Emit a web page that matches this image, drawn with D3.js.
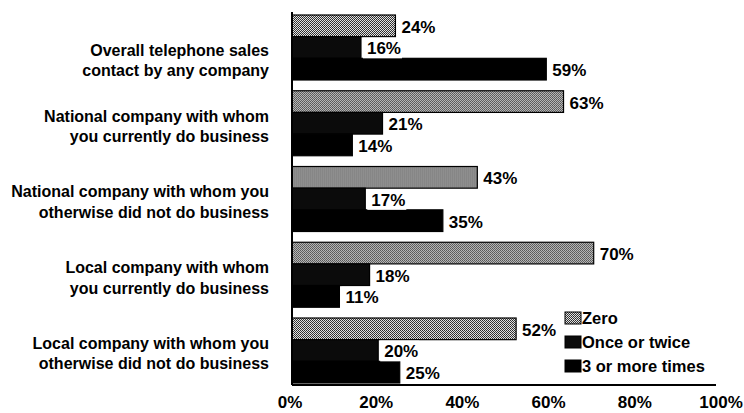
<!DOCTYPE html>
<html>
<head>
<meta charset="utf-8">
<script src="https://cdn.jsdelivr.net/npm/d3@7"></script>
<style>
  html, body { margin: 0; padding: 0; background: #fff; }
  svg { display: block; }
  text { font-family: "Liberation Sans", Arial, Helvetica, sans-serif; font-weight: bold; fill: #000; }
</style>
</head>
<body>
<svg id="chart" width="744" height="413"></svg>
<script>
// Category labels (two lines each)
const categories = [
  ["Overall telephone sales", "contact by any company"],
  ["National company with whom", "you currently do business"],
  ["National company with whom you", "otherwise did not do business"],
  ["Local company with whom", "you currently do business"],
  ["Local company with whom you", "otherwise did not do business"]
];
const seriesNames = ["Zero", "Once or twice", "3 or more times"];
const zeroValues = [24, 63, 43, 70, 52];
const onceValues = [16, 21, 17, 18, 20];
const moreValues = [59, 14, 35, 11, 25];
const xTicks = [0, 20, 40, 60, 80, 100];

const seriesValues = [zeroValues, onceValues, moreValues];

const svg = d3.select("#chart");

// Pattern for the "Zero" bars: fine stipple
const defs = svg.append("defs");
const pat = defs.append("pattern")
  .attr("id", "stipple")
  .attr("patternUnits", "userSpaceOnUse")
  .attr("width", 2).attr("height", 2);
pat.append("rect").attr("width", 2).attr("height", 2).attr("fill", "#e2e2e2");
pat.append("rect").attr("x", 0).attr("y", 0).attr("width", 1).attr("height", 1).attr("fill", "#2a2a2a");
pat.append("rect").attr("x", 1).attr("y", 1).attr("width", 1).attr("height", 1).attr("fill", "#3a3a3a");

const fills = ["url(#stipple)", "#0b0b0b", "#000"];

const axisX = 292, axisBottom = 385, plotTop = 12;

const x = d3.scaleLinear().domain([0, 100]).range([292, 723]);
const y = d3.scaleBand()
  .domain(d3.range(categories.length))
  .range([15, 383])
  .paddingInner(0.142)
  .paddingOuter(0);
const ySub = d3.scaleBand()
  .domain(d3.range(seriesNames.length))
  .range([0, y.bandwidth()]);

// Bars and value labels
const groups = svg.append("g").selectAll("g")
  .data(categories.map((c, i) => i))
  .join("g")
  .attr("transform", i => `translate(0,${y(i)})`);

groups.each(function(ci) {
  const g = d3.select(this);
  seriesValues.forEach((vals, si) => {
    const v = vals[ci];
    g.append("rect")
      .attr("x", x(0))
      .attr("y", ySub(si))
      .attr("width", x(v) - x(0))
      .attr("height", ySub.bandwidth())
      .attr("fill", fills[si])
      .attr("stroke", "#000")
      .attr("stroke-width", 1.2);
  });
  seriesValues.forEach((vals, si) => {
    const v = vals[ci];
    const t = g.append("text")
      .attr("x", x(v) + 6)
      .attr("y", ySub(si) + ySub.bandwidth() / 2 + 1)
      .attr("dy", "0.35em")
      .attr("font-size", 17)
      .text(v + "%");
    const bb = t.node().getBBox();
    g.insert("rect", "text")
      .attr("x", bb.x - 4)
      .attr("y", ySub(si) + 1)
      .attr("width", bb.width + 5)
      .attr("height", ySub.bandwidth() - 1)
      .attr("fill", "#fff");
  });
});

// Category labels
const catG = svg.append("g");
categories.forEach((lines, i) => {
  const cy = y(i) + y.bandwidth() / 2 + (i === 0 ? 13 : 3);
  const t = catG.append("text")
    .attr("text-anchor", "end")
    .attr("font-size", 16);
  lines.forEach((ln, k) => {
    t.append("tspan")
      .attr("x", 269)
      .attr("y", cy + (k - 0.5) * 20.5)
      .attr("dy", "0.35em")
      .text(ln);
  });
});

// Axes lines
svg.append("line")
  .attr("x1", axisX).attr("x2", axisX)
  .attr("y1", plotTop).attr("y2", axisBottom)
  .attr("stroke", "#000").attr("stroke-width", 2);

const xAxis = d3.axisBottom(x)
  .tickValues(xTicks)
  .tickSize(0)
  .tickPadding(11)
  .tickFormat(d => d + "%");
const xa = svg.append("g")
  .attr("transform", `translate(0,${axisBottom})`)
  .call(xAxis);
xa.select(".domain").attr("d", `M${axisX},0H716`).attr("stroke", "#000").attr("stroke-width", 2);
xa.selectAll(".tick").attr("transform", d => `translate(${x(d) - 2},0)`);
xa.selectAll("text")
  .attr("font-size", 17)
  .attr("font-family", "Liberation Sans, Arial, sans-serif")
  .attr("font-weight", "bold")
  .attr("fill", "#000");

// Legend
const legend = svg.append("g").attr("transform", "translate(565,318)");
seriesNames.forEach((name, i) => {
  const ly = i * 24;
  legend.append("rect")
    .attr("x", 0).attr("y", ly - 6)
    .attr("width", 16).attr("height", 12)
    .attr("fill", fills[i])
    .attr("stroke", "#000").attr("stroke-width", 1);
  legend.append("text")
    .attr("x", 17).attr("y", ly)
    .attr("dy", "0.35em")
    .attr("font-size", 16.5)
    .text(name);
});
</script>
</body>
</html>
